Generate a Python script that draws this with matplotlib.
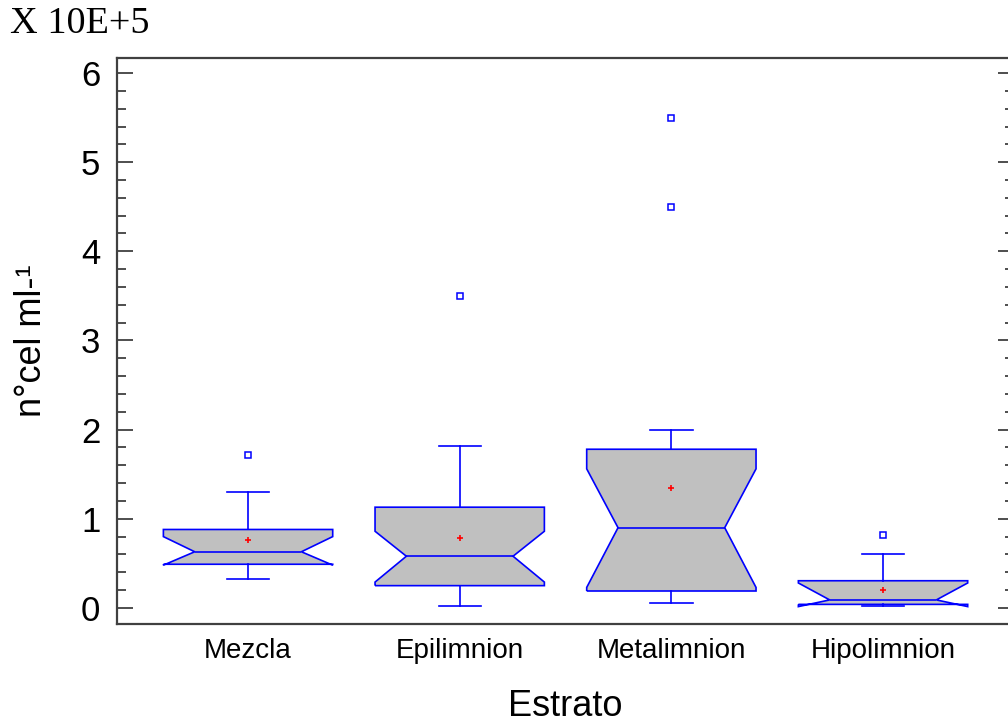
import matplotlib
matplotlib.use("Agg")
import matplotlib.pyplot as plt
from matplotlib.path import Path
from matplotlib.ticker import MultipleLocator
import numpy as np

# cell counts per stratum, in units of 10^5 cel/ml
estratos = ['Mezcla', 'Epilimnion', 'Metalimnion', 'Hipolimnion']
q1 = [0.49, 0.25, 0.19, 0.04]
med = [0.63, 0.58, 0.90, 0.09]
q3 = [0.88, 1.13, 1.78, 0.305]
whislo = [0.33, 0.02, 0.06, 0.02]
whishi = [1.30, 1.82, 2.00, 0.61]
means = [0.76, 0.79, 1.35, 0.20]
cilo = [0.48, 0.29, 0.23, 0.015]
cihi = [0.80, 0.86, 1.56, 0.28]
fliers = [[1.71], [3.50], [4.50, 5.50], [0.82]]

plt.rcParams['font.family'] = ['Liberation Sans', 'DejaVu Sans']

stats = []
for i, name in enumerate(estratos):
    stats.append(dict(label=name, med=med[i], q1=q1[i], q3=q3[i],
                      whislo=whislo[i], whishi=whishi[i], mean=means[i],
                      cilo=cilo[i], cihi=cihi[i], fliers=np.array(fliers[i])))

fig = plt.figure(figsize=(10.08, 7.27), dpi=100)
ax = fig.add_axes([0.1161, 0.1417, 0.8899, 0.7792])

blue = '#0000ff'
width = 0.8
positions = [1, 2, 3, 4]
bp = ax.bxp(stats, positions=positions, widths=width, capwidths=0.2,
            shownotches=True, showmeans=True, patch_artist=True,
            boxprops=dict(facecolor='#c0c0c0', edgecolor=blue, linewidth=1.2),
            whiskerprops=dict(color=blue, linewidth=1.2),
            capprops=dict(color=blue, linewidth=1.2),
            medianprops=dict(color=blue, linewidth=1.2),
            meanprops=dict(marker='+', markeredgecolor='red', markersize=5,
                           markeredgewidth=1.2),
            flierprops=dict(marker='s', markerfacecolor='none',
                            markeredgecolor=blue, markersize=4,
                            markeredgewidth=1.1))

# deeper notches than the bxp default
notch = 0.315 * width
for pos, box, line in zip(positions, bp['boxes'], bp['medians']):
    verts = box.get_path().vertices.copy()
    verts[3, 0] = pos + notch
    verts[8, 0] = pos - notch
    box.set_path(Path(verts))
    line.set_xdata([pos - notch, pos + notch])

ax.set_xlim(0.381, 4.619)
ax.set_ylim(-0.18, 6.174)

ax.set_xticks(positions, estratos)
ax.tick_params(axis='x', length=0, pad=10, labelsize=20)

ax.yaxis.set_major_locator(MultipleLocator(1))
ax.yaxis.set_minor_locator(MultipleLocator(0.2))
ax.tick_params(axis='y', which='major', direction='in', length=11.5,
               width=1.3, color='#404040', left=True, right=True,
               labelsize=25, pad=12)
ax.tick_params(axis='y', which='minor', direction='in', length=6.5,
               width=1.3, color='#404040', left=True, right=True)

for sp in ax.spines.values():
    sp.set_color('#404040')
    sp.set_linewidth(1.6)

ax.set_ylabel('n°cel ml-¹', fontsize=26, labelpad=23)
ax.set_xlabel('Estrato', fontsize=26, labelpad=18)

fig.text(10 / 1008, 1 - 24 / 727, 'X 10E+5', family='Liberation Serif',
         fontsize=27.5, va='center', ha='left')

fig.savefig('out.png', dpi=100)
